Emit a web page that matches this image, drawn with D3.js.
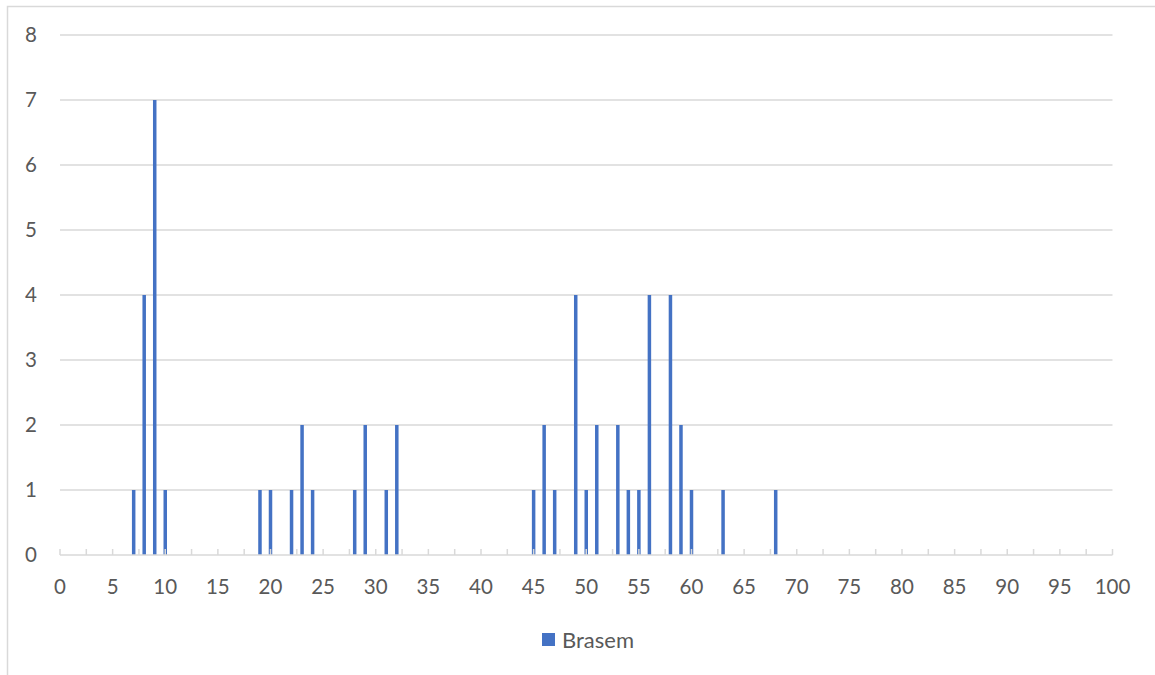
<!DOCTYPE html>
<html>
<head>
<meta charset="utf-8">
<script src="https://cdn.jsdelivr.net/npm/d3@7"></script>
<style>
html,body{margin:0;padding:0;background:#fff;}
svg{display:block;}
text{font-family:Lato,"Open Sans",sans-serif;fill:#595959;}
</style>
</head>
<body>
<svg id="chart" width="1155" height="675"></svg>
<script>
const seriesName = "Brasem";
const xValues = [7, 8, 9, 10, 19, 20, 22, 23, 24, 28, 29, 31, 32, 45, 46, 47, 49, 50, 51, 53, 54, 55, 56, 58, 59, 60, 63, 68];
const counts  = [1, 4, 7, 1, 1, 1, 1, 2, 1, 1, 2, 1, 2, 1, 2, 1, 4, 1, 2, 2, 1, 1, 4, 4, 2, 1, 1, 1];
const xTickLabels = d3.range(0, 101, 5);
const xMinorTicks = d3.range(0, 100.01, 2.5);
const yTickLabels = d3.range(0, 9, 1);

(function () {
const svg = d3.select("#chart");
const mLeft = 60, mRight = 1112.5, mTop = 35, mBottom = 555;
const x = d3.scaleLinear().domain([0, 100]).range([mLeft, mRight]);
const y = d3.scaleLinear().domain([0, 8]).range([mBottom, mTop]);

// outer border
svg.append("rect").attr("x", 7.5).attr("y", 6.5).attr("width", 1160).attr("height", 680)
  .attr("fill", "none").attr("stroke", "#d9d9d9").attr("stroke-width", 1.5);

// gridlines
svg.append("g").selectAll("line").data(yTickLabels.filter(d => d > 0)).join("line")
  .attr("x1", mLeft).attr("x2", mRight)
  .attr("y1", d => y(d)).attr("y2", d => y(d))
  .attr("stroke", "#d9d9d9").attr("stroke-width", 1.5);

// y labels
svg.append("g").selectAll("text").data(yTickLabels).join("text")
  .attr("x", 37).attr("y", d => y(d)).attr("dy", "0.36em")
  .attr("text-anchor", "end").attr("font-size", 20.5).text(d => d);

// bars
const data = xValues.map((v, i) => ({x: v, c: counts[i]}));
svg.append("g").selectAll("rect").data(data).join("rect")
  .attr("x", d => x(d.x) - 1.75).attr("width", 3.5)
  .attr("y", d => y(d.c)).attr("height", d => y(0) - y(d.c))
  .attr("fill", "#4472C4");

// x axis line + ticks
svg.append("line").attr("x1", mLeft).attr("x2", mRight).attr("y1", mBottom).attr("y2", mBottom)
  .attr("stroke", "#d9d9d9").attr("stroke-width", 1.5);
svg.append("g").selectAll("line").data(xMinorTicks).join("line")
  .attr("x1", d => x(d)).attr("x2", d => x(d))
  .attr("y1", mBottom - 6).attr("y2", mBottom)
  .attr("stroke", "#d9d9d9").attr("stroke-width", 1.5);

// x labels
svg.append("g").selectAll("text").data(xTickLabels).join("text")
  .attr("x", d => x(d)).attr("y", 587).attr("dy", "0.36em")
  .attr("text-anchor", "middle").attr("font-size", 20.5).text(d => d);

// legend
svg.append("rect").attr("x", 542).attr("y", 633).attr("width", 13).attr("height", 13).attr("fill", "#4472C4");
svg.append("text").attr("x", 562).attr("y", 640).attr("dy", "0.36em").attr("font-size", 22).text(seriesName);
})();
</script>
</body>
</html>
